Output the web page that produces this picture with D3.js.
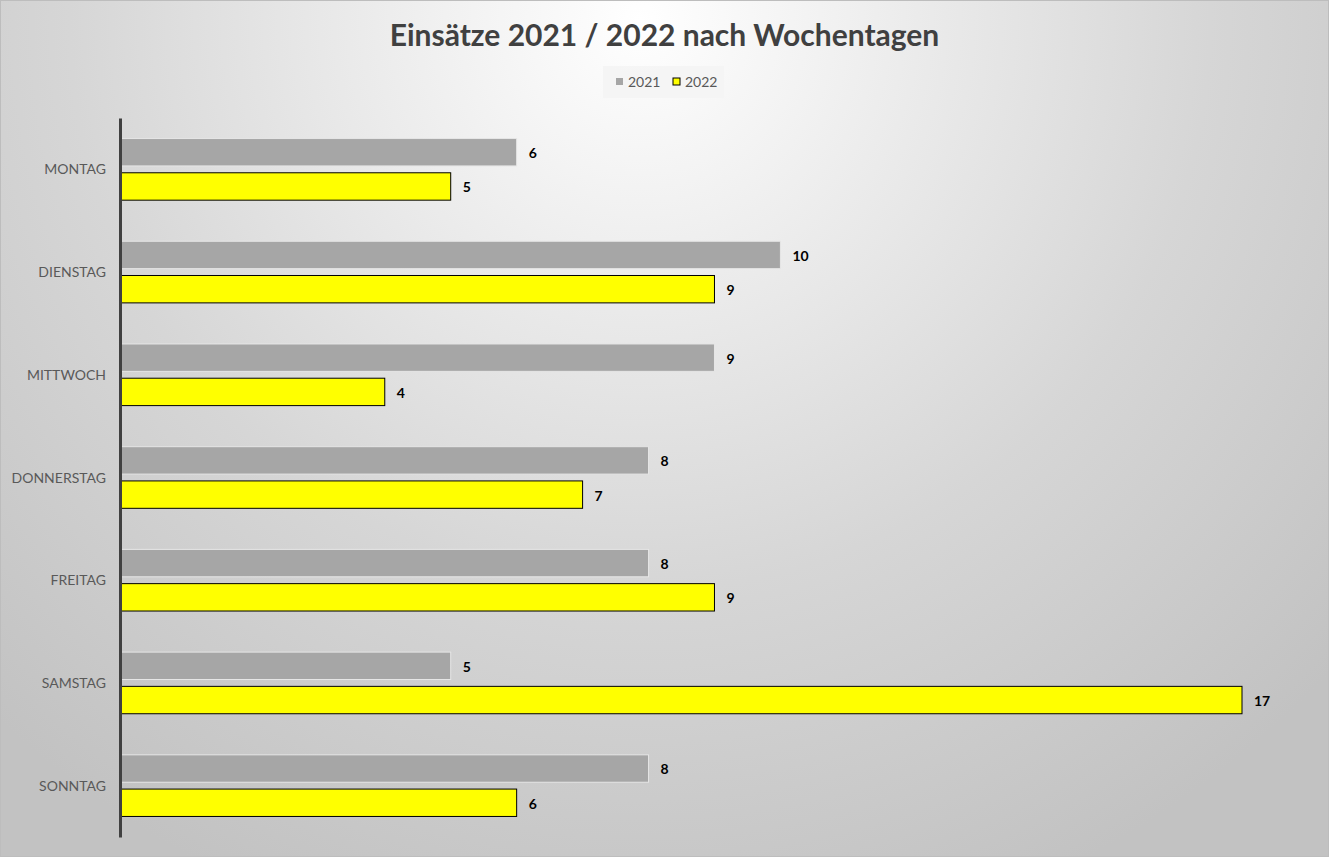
<!DOCTYPE html>
<html>
<head>
<meta charset="utf-8">
<script src="https://cdn.jsdelivr.net/npm/d3@7"></script>
<style>
  body { margin: 0; padding: 0; overflow: hidden; }
  svg { display: block; font-family: Lato, "Open Sans", sans-serif; }
</style>
</head>
<body>
<svg width="1329" height="857"></svg>
<script>
var days = ["MONTAG", "DIENSTAG", "MITTWOCH", "DONNERSTAG", "FREITAG", "SAMSTAG", "SONNTAG"];
var values2021 = [6, 10, 9, 8, 8, 5, 8];
var values2022 = [5, 9, 4, 7, 9, 17, 6];
var seriesNames = ["2021", "2022"];

var svg = d3.select("svg");
var width = 1329, height = 857;

// background gradient
var defs = svg.append("defs");
var grad = defs.append("radialGradient")
    .attr("id", "bg")
    .attr("gradientUnits", "userSpaceOnUse")
    .attr("cx", 640).attr("cy", 20).attr("r", 950);
grad.append("stop").attr("offset", "0").attr("stop-color", "#ffffff");
grad.append("stop").attr("offset", "0.6").attr("stop-color", "#d6d6d6");
grad.append("stop").attr("offset", "1").attr("stop-color", "#c2c2c2");

svg.append("rect")
    .attr("x", 0.5).attr("y", 0.5)
    .attr("width", width - 1).attr("height", height - 1)
    .attr("fill", "url(#bg)")
    .attr("stroke", "#bdbdbd");

// title
svg.append("text")
    .attr("x", width / 2).attr("y", 46)
    .attr("text-anchor", "middle")
    .attr("font-size", 30).attr("font-weight", "bold")
    .attr("fill", "#404040")
    .text("Einsätze 2021 / 2022 nach Wochentagen");

// legend
var legend = svg.append("g");
legend.append("rect")
    .attr("x", 603).attr("y", 66).attr("width", 121).attr("height", 32)
    .attr("fill", "#f4f4f4").attr("opacity", 0.8);
var legendColors = ["#a6a6a6", "#ffff00"];
var legendX = [616, 673];
seriesNames.forEach(function(name, i) {
    legend.append("rect")
        .attr("x", legendX[i]).attr("y", 78).attr("width", 7).attr("height", 7)
        .attr("fill", legendColors[i])
        .attr("stroke", i == 1 ? "#000" : "none").attr("stroke-width", 1);
    legend.append("text")
        .attr("x", legendX[i] + 12).attr("y", 87)
        .attr("font-size", 14).attr("fill", "#595959")
        .text(name);
});

// scales
var xScale = d3.scaleLinear().domain([0, 17]).range([121, 1242]);
var yScale = d3.scaleBand().domain(days).range([118, 837])
    .paddingInner(0.4).paddingOuter(0.2);
var subScale = d3.scaleBand().domain(seriesNames).range([0, yScale.bandwidth()])
    .paddingInner(0.2);

var data = days.map(function(d, i) {
    return {day: d, values: [{key: "2021", v: values2021[i]}, {key: "2022", v: values2022[i]}]};
});

var groups = svg.selectAll("g.day")
    .data(data).enter().append("g")
    .attr("class", "day")
    .attr("transform", d => `translate(0,${yScale(d.day)})`);

groups.selectAll("rect")
    .data(d => d.values).enter().append("rect")
    .attr("x", xScale(0))
    .attr("y", d => subScale(d.key))
    .attr("width", d => xScale(d.v) - xScale(0))
    .attr("height", subScale.bandwidth())
    .attr("fill", d => d.key == "2021" ? "#a6a6a6" : "#ffff00")
    .attr("stroke", d => d.key == "2021" ? "#e6e6e6" : "#000000")
    .attr("stroke-width", 1);

groups.selectAll("text")
    .data(d => d.values).enter().append("text")
    .attr("x", d => xScale(d.v) + 12)
    .attr("y", d => subScale(d.key) + subScale.bandwidth() / 2 + 1)
    .attr("dy", "0.35em")
    .attr("font-size", 14).attr("font-weight", "bold")
    .attr("fill", "#000")
    .text(d => d.v);

// category axis
var yAxis = d3.axisLeft(yScale).tickSize(0).tickPadding(14);
var axisG = svg.append("g")
    .attr("id", "yAxisG")
    .attr("transform", "translate(120,0)")
    .call(yAxis);
axisG.select(".domain").attr("stroke", "#404040").attr("stroke-width", 3);
axisG.selectAll("text")
    .attr("font-family", "Lato, 'Open Sans', sans-serif")
    .attr("dy", "0.36em")
    .attr("font-size", 14).attr("fill", "#595959");
</script>
</body>
</html>
